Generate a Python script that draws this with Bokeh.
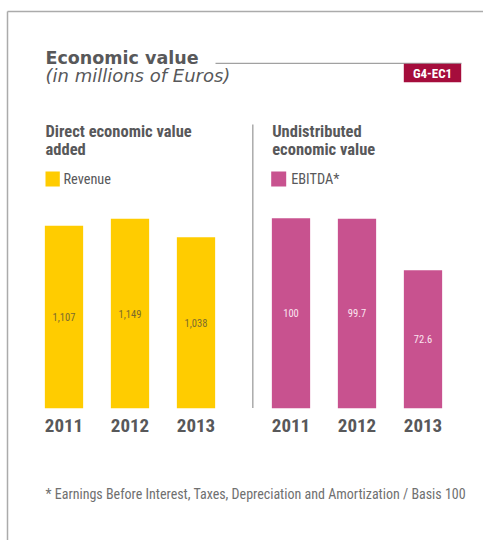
from bokeh.plotting import figure
from bokeh.models import Range1d
from bokeh.embed import file_html
from bokeh.resources import INLINE
from bokeh.core.properties import value

# ---------------- data ----------------
years = [2011, 2012, 2013]
year_labels = ["2011", "2012", "2013"]
revenue = [1107, 1149, 1038]
revenue_labels = ["1,107", "1,149", "1,038"]
ebitda = [100, 99.7, 72.6]
ebitda_labels = ["100", "99.7", "72.6"]

title_text = "Economic value"
subtitle_text = "(in millions of Euros)"
badge_text = "G4-EC1"
left_header = ["Direct economic value", "added"]
right_header = ["Undistributed", "economic value"]
left_legend = "Revenue"
right_legend = "EBITDA*"
footnote_text = "* Earnings Before Interest, Taxes, Depreciation and Amortization / Basis 100"

# ---------------- style ----------------
W, H = 483, 540
YELLOW = "#FFCC00"
PINK = "#C8528F"
DARK = "#58585A"
FRAME = "#ABABAB"
BADGE = "#A50D3C"
COND = "Roboto Condensed, DejaVu Sans Condensed, Roboto"
GEO = "DejaVu Sans"

p = figure(width=W, height=H, x_range=Range1d(0, W), y_range=Range1d(H, 0),
           output_backend="svg", toolbar_location=None, min_border=0,
           x_axis_location=None, y_axis_location=None)
p.grid.visible = False
p.outline_line_color = None
p.background_fill_color = "white"
p.border_fill_color = "white"

# data scales: pixels per year, zero baseline, pixels per unit
ppx = 66.0
zero_y = 407.7
ppu_l = 0.1648
ppu_r = 1.9
first_l = 63.5
first_r = 290.5
p.extra_x_ranges = {
    "lx": Range1d(years[0] - first_l / ppx, years[0] - first_l / ppx + W / ppx),
    "rx": Range1d(years[0] - first_r / ppx, years[0] - first_r / ppx + W / ppx),
}
p.extra_y_ranges = {
    "ly": Range1d(-(H - zero_y) / ppu_l, zero_y / ppu_l),
    "ry": Range1d(-(H - zero_y) / ppu_r, zero_y / ppu_r),
}

# ---------------- frame ----------------
p.segment(x0=[7, 7], y0=[11, 11], x1=[7, W], y1=[H, 11], line_color=FRAME, line_width=1.5)

# title
p.text(x=[45], y=[57.5], text=[title_text], text_font=value(GEO), text_font_style="bold",
       text_font_size="17.5px", text_color=DARK, text_baseline="middle")
p.text(x=[45], y=[75], text=[subtitle_text], text_font=value(GEO), text_font_style="italic",
       text_font_size="18px", text_color=DARK, text_baseline="middle")
p.segment(x0=[215], y0=[62.8], x1=[461], y1=[62.8], line_color="#8A8A8A", line_width=1)
p.quad(left=[403.3], right=[460.7], top=[63.3], bottom=[81.7], fill_color=BADGE, line_color=None)
p.text(x=[432], y=[72.8], text=[badge_text], text_font=value(COND), text_font_style="bold",
       text_font_size="13px", text_color="white", text_align="center", text_baseline="middle")

# section headers
for i, line in enumerate(left_header):
    p.text(x=[45], y=[131 + 18.3 * i], text=[line], text_font=value(COND), text_font_style="bold",
           text_font_size="16.5px", text_color=DARK, text_baseline="middle")
for i, line in enumerate(right_header):
    p.text(x=[271.7], y=[131 + 18.3 * i], text=[line], text_font=value(COND), text_font_style="bold",
           text_font_size="16.5px", text_color=DARK, text_baseline="middle")

# legends
p.quad(left=[45, 270.7], right=[59.3, 285.7], top=[171, 171], bottom=[186, 186],
       fill_color=[YELLOW, PINK], line_color=None)
p.text(x=[63, 290.7], y=[178.7, 178.7], text=[left_legend, right_legend], text_font=value(COND),
       text_font_size="14.3px", text_color=DARK, text_baseline="middle")

# divider
p.segment(x0=[252.3], y0=[124], x1=[252.3], y1=[407.5], line_color=FRAME, line_width=1.5)

# ---------------- bars ----------------
p.vbar(x=years, top=revenue, bottom=0, width=0.58, fill_color=YELLOW, line_color=None,
       x_range_name="lx", y_range_name="ly")
p.vbar(x=years, top=ebitda, bottom=0, width=0.58, fill_color=PINK, line_color=None,
       x_range_name="rx", y_range_name="ry")

p.text(x=years, y=[v / 2 for v in revenue], text=revenue_labels, x_range_name="lx", y_range_name="ly",
       text_font=value(COND), text_font_size="10.5px", text_color="#7A6B2E",
       text_align="center", text_baseline="middle")
p.text(x=years, y=[v / 2 for v in ebitda], text=ebitda_labels, x_range_name="rx", y_range_name="ry",
       text_font=value(COND), text_font_size="10.5px", text_color="#FBE4F0",
       text_align="center", text_baseline="middle")

for xr, yr in (("lx", "ly"), ("rx", "ry")):
    p.text(x=years, y=[0] * len(years), text=year_labels, x_range_name=xr, y_range_name=yr,
           y_offset=17, text_font=value(COND), text_font_style="bold", text_font_size="19px",
           text_color=DARK, text_align="center", text_baseline="middle")

# footnote
p.text(x=[45], y=[493], text=[footnote_text], text_font=value(COND), text_font_size="14px",
       text_color="#707070", text_baseline="middle")

open("out.html", "w").write(file_html(p, INLINE))
